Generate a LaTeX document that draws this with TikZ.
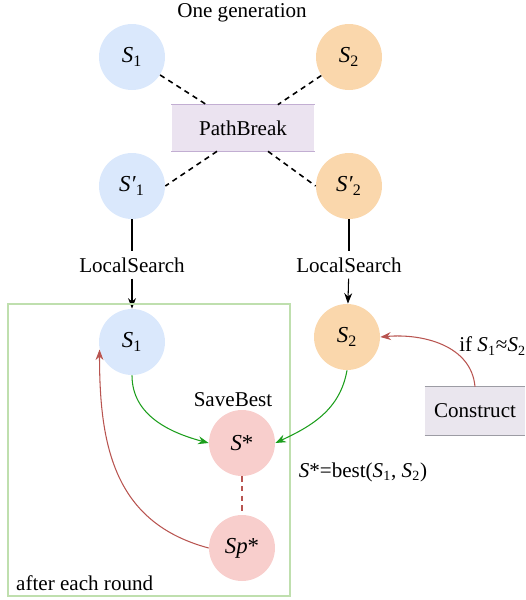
\documentclass[tikz,border=0pt]{standalone}
\usepackage{fontspec}
\setmainfont{Liberation Serif}
\usetikzlibrary{arrows.meta}
\definecolor{solblue}{HTML}{DAE8FC}
\definecolor{solorange}{HTML}{FAD7AC}
\definecolor{solpink}{HTML}{F8CECC}
\definecolor{opfill}{HTML}{EBE3F0}
\definecolor{opline}{HTML}{C2AED2}
\definecolor{confill}{HTML}{EAE6EE}
\definecolor{conline}{HTML}{9C9CA4}
\definecolor{roundbox}{HTML}{BFDFAE}
\definecolor{savegreen}{HTML}{1C9E1C}
\definecolor{backred}{HTML}{B85450}
\newcommand{\Sub}[2]{\textit{#1}\textsubscript{#2}}
\begin{document}
\begin{tikzpicture}[>={Stealth[length=6pt,width=4.5pt]}, x=0.02cm, y=-0.02cm,
    every node/.style={font=\fontsize{12}{14}\selectfont},
    sol/.style={circle, minimum size=1.32cm, inner sep=0pt, font=\fontsize{13}{15}\selectfont},
    opbox/.style={fill=opfill, minimum width=2.86cm, minimum height=0.92cm},
    conbox/.style={fill=confill, minimum width=2cm, minimum height=0.96cm},
    link/.style={line width=0.9pt, dash pattern=on 3pt off 2.5pt},
    flow/.style={line width=0.6pt}]
  \useasboundingbox (0,0) rectangle (526,600);
  % top row
  \node at (242,13) {One generation};
  \node[sol, fill=solblue] (s1) at (132,57) {\Sub{S}{1}};
  \node[sol, fill=solorange] (s2) at (349,57) {\Sub{S}{2}};
  \node[opbox] (pb) at (243,128) {PathBreak};
  \draw[opline, line width=0.8pt] (pb.north west) -- (pb.north east);
  \draw[opline, line width=0.8pt] (pb.south west) -- (pb.south east);
  \node[sol, fill=solblue] (s1p) at (132,186) {\Sub{S′}{1}};
  \node[sol, fill=solorange] (s2p) at (349,186) {\Sub{S′}{2}};
  \draw[link] (s1) -- (pb);
  \draw[link] (s2) -- (pb);
  \draw[link] ([xshift=-0.52cm]pb.south) -- (s1p.east);
  \draw[link] ([xshift=0.5cm]pb.south) -- (s2p.west);
  % local search
  \node (ls1) at (132,265) {LocalSearch};
  \node (ls2) at (349,265) {LocalSearch};
  \node[sol, fill=solblue] (s1b) at (132,342) {\Sub{S}{1}};
  \node[sol, fill=solorange] (s2b) at (347,337) {\Sub{S}{2}};
  \draw[flow] (s1p) -- (ls1);
  \draw[flow] (s2p) -- (ls2);
  \draw[flow, ->] (ls1) -- (s1b);
  \draw[flow, ->] (ls2) -- (s2b);
  % save best
  \draw[roundbox, line width=0.7pt] (8,304) rectangle (290,596);
  \node[anchor=west] at (10,583) {after each round};
  \node[sol, fill=solpink] (sb) at (242,443) {\textit{S}*};
  \node[sol, fill=solpink] (sp) at (242,548) {\textit{Sp}*};
  \node at (233,400) {SaveBest};
  \node at (363,472) {\textit{S}*=best(\Sub{S}{1}, \Sub{S}{2})};
  \draw[flow, savegreen, ->] (s1b.south) to[out=-90, in=165] (sb.west);
  \draw[flow, savegreen, ->] (s2b.south) to[out=-100, in=25] (sb.east);
  \draw[backred, line width=0.9pt, dash pattern=on 3pt off 2.5pt] (sb) -- (sp);
  \draw[flow, backred, ->] (sp.west) to[out=165, in=-90, looseness=1.1] (s1b.193);
  % construct
  \node[conbox] (con) at (475,411) {Construct};
  \draw[conline, line width=0.8pt] (con.north west) -- (con.north east);
  \draw[conline, line width=0.8pt] (con.south west) -- (con.south east);
  \node[anchor=west, inner sep=0pt] at (459,346) {if \Sub{S}{1}≈\Sub{S}{2}};
  \draw[flow, backred, ->] (con.north) to[out=95, in=5] (s2b.east);
\end{tikzpicture}
\end{document}
